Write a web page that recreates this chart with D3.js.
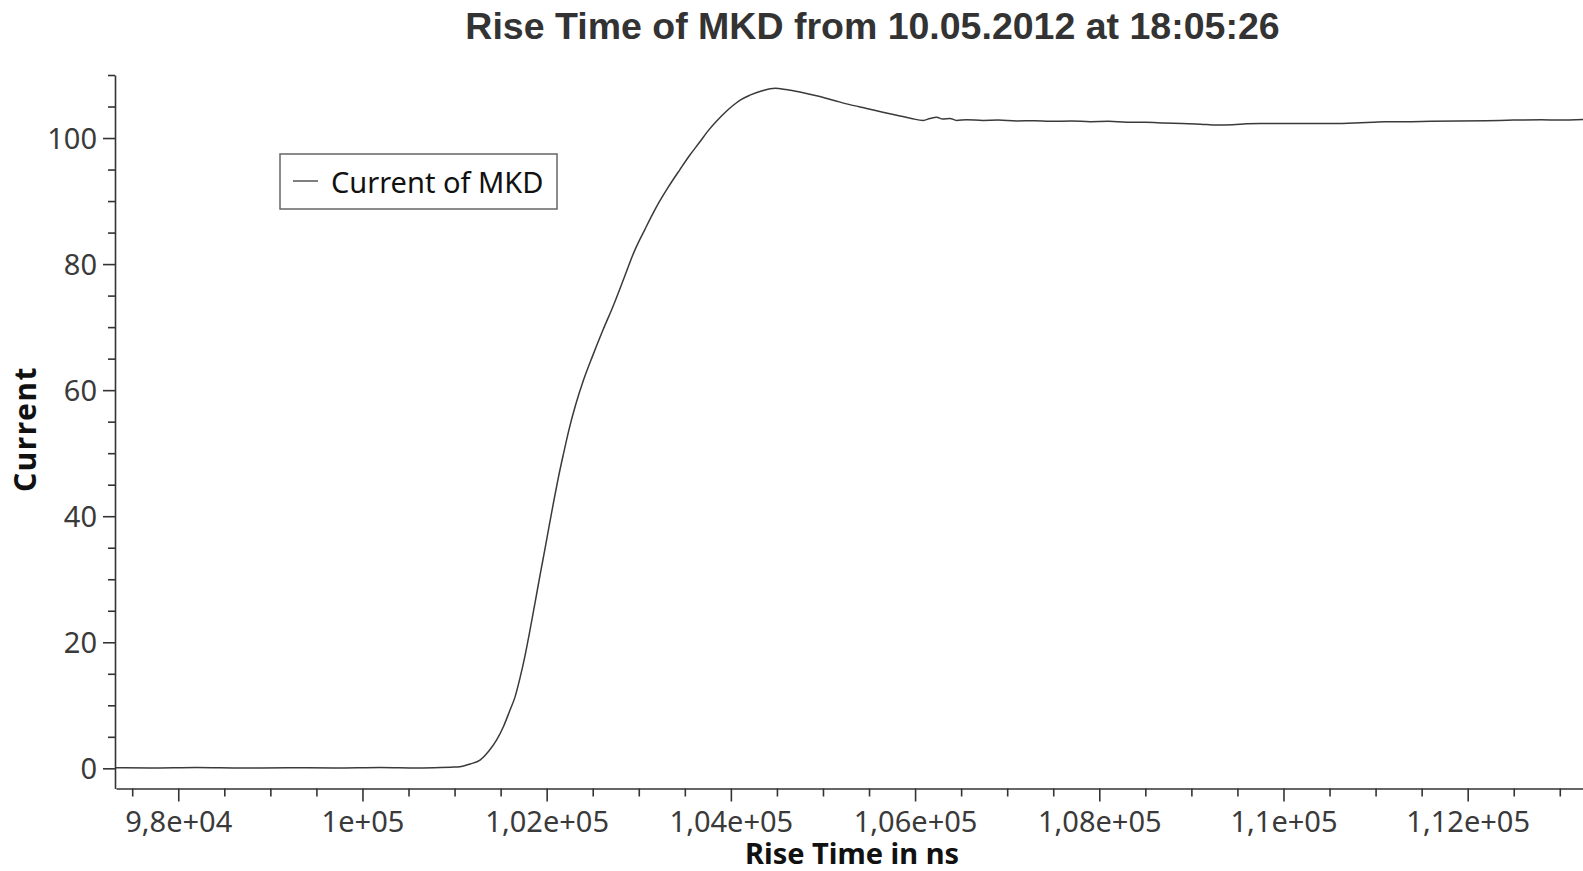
<!DOCTYPE html>
<html>
<head>
<meta charset="utf-8">
<script src="https://cdn.jsdelivr.net/npm/d3@7/dist/d3.min.js"></script>
<style>
  html, body { margin: 0; padding: 0; background: #fff; }
  svg { display: block; }
</style>
</head>
<body>
<svg id="chart" width="1583" height="871"></svg>
<script>
// Rise time measurement: time in ns and the measured current
const timeNs = [
  97324, 97700, 98200, 98700, 99200, 99700, 100200, 100600, 100850, 100960,
  101059, 101170, 101276, 101370, 101457, 101530, 101602, 101656, 101710, 101764,
  101820, 101874, 101930, 101984, 102030, 102072, 102125, 102181, 102245, 102313,
  102400, 102498, 102610, 102729, 102840, 102948, 103070, 103189, 103320, 103447,
  103555, 103664, 103750, 103846, 103940, 104026, 104110, 104207, 104340, 104480,
  104600, 104750, 104930, 105112, 105290, 105474, 105650, 105836, 105960, 106089,
  106160, 106234, 106300, 106379, 106450, 106560, 106737, 106900, 107103, 107300,
  107465, 107700, 107900, 108100, 108300, 108500, 108700, 108900, 109100, 109274,
  109450, 109600, 109750, 109900, 110100, 110300, 110500, 110700, 110974, 111100,
  111300, 111600, 111900, 112200, 112500, 112800, 113000, 113252
];
const currentValues = [
  0.10, 0.05, 0.12, 0.05, 0.10, 0.05, 0.12, 0.05, 0.12, 0.18,
  0.25, 0.70, 1.30, 2.70, 4.50, 6.60, 9.25, 11.3, 14.3, 17.8,
  22.0, 26.3, 30.8, 35.0, 38.7, 42.0, 46.0, 49.8, 53.9, 57.6,
  61.6, 65.4, 69.5, 73.6, 77.8, 81.9, 85.6, 89.0, 92.2, 95.0,
  97.3, 99.4, 101.1, 102.7, 104.1, 105.2, 106.1, 106.8, 107.5, 107.9,
  107.7, 107.3, 106.7, 106.0, 105.3, 104.7, 104.1, 103.5, 103.1, 102.8,
  103.1, 103.3, 103.0, 103.1, 102.8, 102.9, 102.8, 102.85, 102.7, 102.75,
  102.65, 102.7, 102.6, 102.65, 102.5, 102.5, 102.4, 102.3, 102.2, 102.05,
  102.1, 102.25, 102.3, 102.3, 102.3, 102.3, 102.3, 102.35, 102.5, 102.6,
  102.6, 102.65, 102.7, 102.75, 102.85, 102.9, 102.85, 102.95
];

const xMajorTicks = [98000, 100000, 102000, 104000, 106000, 108000, 110000, 112000];
const xTickLabels = ["9,8e+04", "1e+05", "1,02e+05", "1,04e+05", "1,06e+05", "1,08e+05", "1,1e+05", "1,12e+05"];
const yMajorTicks = [0, 20, 40, 60, 80, 100];
const xMinorStep = 500;
const yMinorStep = 5;

const titleText = "Rise Time of MKD from 10.05.2012 at 18:05:26";
const xAxisTitle = "Rise Time in ns";
const yAxisTitle = "Current";
const seriesName = "Current of MKD";

const svg = d3.select("#chart");
const W = 1583, H = 871;
svg.append("rect").attr("width", W).attr("height", H).attr("fill", "#fff");

const tickFont = "'Noto Sans', 'Open Sans', sans-serif";
const axisColor = "#333";

const x = d3.scaleLinear().domain([97324, 113252]).range([116, 1583]);
const y = d3.scaleLinear().domain([-3.2, 110]).range([788.5, 75]);

// Title
svg.append("text")
  .attr("x", 872.5).attr("y", 39)
  .attr("text-anchor", "middle")
  .attr("font-family", "'Liberation Sans', Arial, sans-serif")
  .attr("font-weight", "bold")
  .attr("font-size", 37.5)
  .attr("fill", "#333")
  .text(titleText);

// Curve
svg.append("clipPath").attr("id", "plotClip")
  .append("rect").attr("x", 116).attr("y", 60).attr("width", W - 116).attr("height", 728);

const line = d3.line()
  .x((d, i) => x(timeNs[i]))
  .y(d => y(d))
  .curve(d3.curveMonotoneX);

svg.append("path")
  .datum(currentValues)
  .attr("clip-path", "url(#plotClip)")
  .attr("d", line)
  .attr("fill", "none")
  .attr("stroke", "#3a3a3a")
  .attr("stroke-width", 1.5)
  .attr("stroke-linejoin", "round");

// Y axis: major ticks with labels, minor ticks without
const yMinor = d3.range(yMinorStep, 110.01, yMinorStep).filter(v => !yMajorTicks.includes(v));
const yAxisG = svg.append("g").attr("transform", "translate(115,0)");
yAxisG.call(d3.axisLeft(y).tickValues(yMajorTicks).tickSize(12).tickSizeOuter(0).tickPadding(6));
yAxisG.append("g").call(d3.axisLeft(y).tickValues(yMinor).tickSize(7).tickSizeOuter(0).tickFormat(""))
  .select(".domain").remove();

// X axis
const xMinor = d3.range(97500, 113252, xMinorStep).filter(v => !xMajorTicks.includes(v));
const xAxisG = svg.append("g").attr("transform", "translate(0,788.5)");
xAxisG.call(d3.axisBottom(x).tickValues(xMajorTicks).tickSize(13).tickSizeOuter(0).tickPadding(10)
  .tickFormat((d, i) => xTickLabels[i]));
xAxisG.append("g").call(d3.axisBottom(x).tickValues(xMinor).tickSize(8).tickSizeOuter(0).tickFormat(""))
  .select(".domain").remove();

[yAxisG, xAxisG].forEach(g => {
  g.selectAll("path.domain, line").attr("stroke", axisColor).attr("stroke-width", 1.6);
  g.selectAll("text")
    .attr("font-family", tickFont)
    .attr("font-size", 29)
    .attr("fill", "#3a3a3a");
});
yAxisG.selectAll("text").attr("dy", "0.36em");

// Axis titles
svg.append("text")
  .attr("x", 852).attr("y", 864)
  .attr("text-anchor", "middle")
  .attr("font-family", tickFont)
  .attr("font-weight", "bold")
  .attr("font-size", 29)
  .attr("fill", "#111")
  .text(xAxisTitle);

svg.append("text")
  .attr("transform", "translate(36,429) rotate(-90)")
  .attr("text-anchor", "middle")
  .attr("font-family", tickFont)
  .attr("font-weight", "bold")
  .attr("font-size", 30)
  .attr("letter-spacing", 1.5)
  .attr("fill", "#111")
  .text(yAxisTitle);

// Legend
const legend = svg.append("g");
legend.append("rect")
  .attr("x", 280).attr("y", 154).attr("width", 277).attr("height", 55)
  .attr("fill", "#fff").attr("stroke", "#666").attr("stroke-width", 1.5);
legend.append("line")
  .attr("x1", 293).attr("x2", 318).attr("y1", 181).attr("y2", 181)
  .attr("stroke", "#555").attr("stroke-width", 1.5);
legend.append("text")
  .attr("x", 331).attr("y", 193)
  .attr("font-family", tickFont)
  .attr("font-size", 29)
  .attr("fill", "#111")
  .text(seriesName);
</script>
</body>
</html>
